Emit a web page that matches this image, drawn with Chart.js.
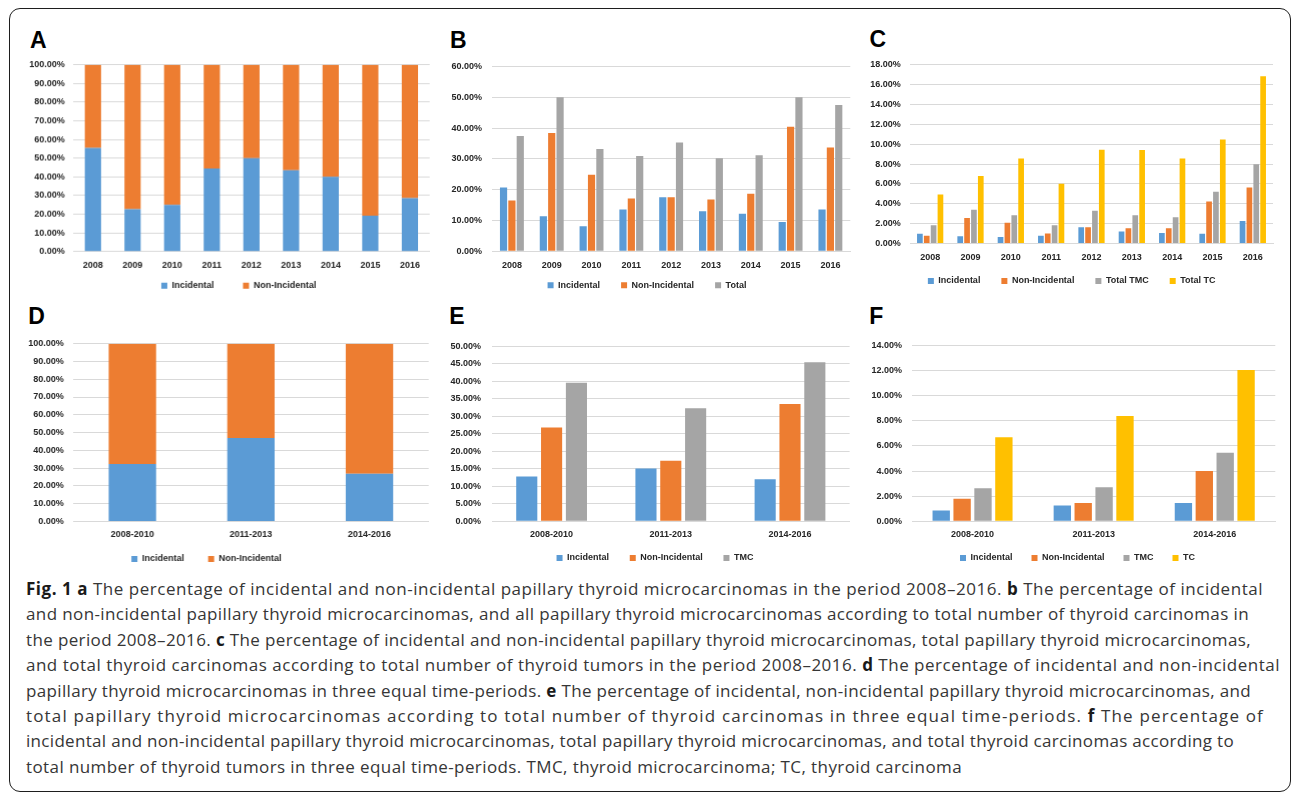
<!DOCTYPE html>
<html><head><meta charset="utf-8">
<script src="https://cdn.jsdelivr.net/npm/chart.js@4.4.0/dist/chart.umd.min.js"></script>
<style>
html,body{margin:0;padding:0;background:#fff;width:1292px;height:793px;overflow:hidden;position:relative;}
#frame{position:absolute;left:9px;top:8px;width:1282px;height:784px;box-sizing:border-box;border:1.5px solid #1e1e1e;border-radius:11px;}
.panel{position:absolute;}
.panel canvas{display:block;}
.lbl{position:absolute;font:bold 23px "Liberation Sans",Arial,sans-serif;color:#000;line-height:1;}
#cap{position:absolute;left:26px;top:576px;font-family:"Open Sans",sans-serif;font-size:17px;color:#363636;}
#cap div{white-space:nowrap;height:25.4px;line-height:25.4px;}
#cap span{display:inline-block;}
#cap b{color:#1a1a1a;font-weight:700;}
</style></head>
<body>
<div id="frame"></div>
<div class="lbl" style="left:30px;top:28.7px">A</div>
<div class="lbl" style="left:450px;top:28.7px">B</div>
<div class="lbl" style="left:869.5px;top:28.2px">C</div>
<div class="lbl" style="left:28.3px;top:305.3px">D</div>
<div class="lbl" style="left:449.3px;top:305.3px">E</div>
<div class="lbl" style="left:869.3px;top:305.3px">F</div>
<div class="panel" id="pA"><canvas></canvas></div>
<div class="panel" id="pB"><canvas></canvas></div>
<div class="panel" id="pC"><canvas></canvas></div>
<div class="panel" id="pD"><canvas></canvas></div>
<div class="panel" id="pE"><canvas></canvas></div>
<div class="panel" id="pF"><canvas></canvas></div>
<div id="cap">
<div><span><b>Fig. 1</b> <b>a</b> The percentage of incidental and non-incidental papillary thyroid microcarcinomas in the period 2008–2016. <b>b</b> The percentage of incidental</span></div>
<div><span>and non-incidental papillary thyroid microcarcinomas, and all papillary thyroid microcarcinomas according to total number of thyroid carcinomas in</span></div>
<div><span>the period 2008–2016. <b>c</b> The percentage of incidental and non-incidental papillary thyroid microcarcinomas, total papillary thyroid microcarcinomas,</span></div>
<div><span>and total thyroid carcinomas according to total number of thyroid tumors in the period 2008–2016. <b>d</b> The percentage of incidental and non-incidental</span></div>
<div><span>papillary thyroid microcarcinomas in three equal time-periods. <b>e</b> The percentage of incidental, non-incidental papillary thyroid microcarcinomas, and</span></div>
<div><span>total papillary thyroid microcarcinomas according to total number of thyroid carcinomas in three equal time-periods. <b>f</b> The percentage of</span></div>
<div><span>incidental and non-incidental papillary thyroid microcarcinomas, total papillary thyroid microcarcinomas, and total thyroid carcinomas according to</span></div>
<div><span>total number of thyroid tumors in three equal time-periods. TMC, thyroid microcarcinoma; TC, thyroid carcinoma</span></div>
</div>
<script>
// ---------- data ----------
const years = ['2008','2009','2010','2011','2012','2013','2014','2015','2016'];
const periods = ['2008-2010','2011-2013','2014-2016'];

const aIncidental    = [55.5, 22.7, 25.0, 44.4, 50.0, 43.5, 40.0, 19.2, 28.6];
const aNonIncidental = [44.5, 77.3, 75.0, 55.6, 50.0, 56.5, 60.0, 80.8, 71.4];

const bIncidental    = [20.7, 11.4, 8.1, 13.6, 17.5, 13.0, 12.2, 9.5, 13.6];
const bNonIncidental = [16.5, 38.4, 24.8, 17.1, 17.5, 16.8, 18.7, 40.4, 33.7];
const bTotal         = [37.4, 50.0, 33.2, 30.9, 35.3, 30.2, 31.2, 50.0, 47.5];

const cIncidental    = [0.99, 0.73, 0.66, 0.79, 1.65, 1.22, 1.06, 0.99, 2.28];
const cNonIncidental = [0.79, 2.58, 2.11, 1.02, 1.65, 1.55, 1.55, 4.23, 5.65];
const cTotalTMC      = [1.85, 3.40, 2.84, 1.85, 3.30, 2.84, 2.64, 5.22, 7.99];
const cTotalTC       = [4.95, 6.80, 8.55, 6.01, 9.45, 9.41, 8.55, 10.47, 16.84];

const dIncidental    = [32.3, 46.9, 26.8];
const dNonIncidental = [67.7, 53.1, 73.2];

const eIncidental    = [12.8, 15.1, 12.0];
const eNonIncidental = [26.8, 17.3, 33.5];
const eTMC           = [39.6, 32.3, 45.5];

const fIncidental    = [0.86, 1.25, 1.46];
const fNonIncidental = [1.80, 1.46, 4.01];
const fTMC           = [2.63, 2.71, 5.46];
const fTC            = [6.69, 8.38, 12.05];

// axis ranges (max, step)
const axisA = [100, 10], axisB = [60, 10], axisC = [18, 2];
const axisD = [100, 10], axisE = [50, 5],  axisF = [14, 2];

// ---------- style ----------
const BLUE = '#5B9BD5', ORANGE = '#ED7D31', GREY = '#A5A5A5', GOLD = '#FFC000';
const TXT = '#262626';
const tickFont = {family:'"Liberation Sans", Arial, sans-serif', size:9, weight:'bold'};
Chart.defaults.font.family = '"Liberation Sans", Arial, sans-serif';

function legendPlacer(g, cl, ct){
  return {
    id:'legendPlacer',
    beforeLayout(chart){
      const lg = chart.legend;
      if (lg && !lg._fx){
        const f = lg.fit;
        lg.fit = function(){ f.call(this); this.height = 0; };
        lg._fx = true;
      }
    },
    afterLayout(chart){
      const lg = chart.legend; if(!lg) return;
      const w = lg.width;
      const cx = g.legX - cl;
      lg.left = cx - w/2; lg.right = cx + w/2;
      lg.top = g.legY - ct - g.legPad - 4.5;
      lg.bottom = lg.top + g.legPad + 22;
      lg.height = lg.bottom - lg.top;
    }
  };
}

function build(id, g, labels, series, axis, bars, stacked){
  const el = document.getElementById(id);
  const cl = g.L - 56, ct = g.T - 12, cr = g.R + 6, cb = g.legY + 16;
  el.style.left = cl + 'px'; el.style.top = ct + 'px';
  el.style.width = (cr - cl) + 'px'; el.style.height = (cb - ct) + 'px';
  const xH = 20;
  new Chart(el.querySelector('canvas'), {
    type:'bar',
    data:{
      labels: labels,
      datasets: series.map(s => ({
        label: s[0], data: s[1], backgroundColor: s[2], borderWidth: 0,
        categoryPercentage: bars[0], barPercentage: bars[1]
      }))
    },
    options:{
      responsive:true, maintainAspectRatio:false, animation:false, devicePixelRatio:1,
      layout:{padding:{left:0, top:g.T - ct, right:cr - g.R, bottom:cb - g.B - xH}},
      scales:{
        x:{
          stacked: stacked,
          grid:{display:false, drawTicks:false},
          border:{display:true, color:'#D9D9D9', width:1},
          ticks:{padding:g.xPad, font:tickFont, color:TXT, maxRotation:0, autoSkip:false},
          afterFit: s => { s.height = xH; }
        },
        y:{
          stacked: stacked, min:0, max:axis[0],
          grid:{color:'#D9D9D9', drawTicks:false, lineWidth:1},
          border:{display:false},
          ticks:{stepSize:axis[1], padding:g.yPad, font:tickFont, color:TXT, autoSkip:false,
                 callback: v => Number(v).toFixed(2) + '%'},
          afterFit: s => { s.width = g.L - cl; }
        }
      },
      plugins:{
        legend:{position:'bottom', labels:{boxWidth:6, boxHeight:6, padding:g.legPad, font:tickFont, color:TXT}},
        tooltip:{enabled:false}
      }
    },
    plugins:[legendPlacer(g, cl, ct)]
  });
}

build('pA', {L:73.3, T:63.3, R:429, B:251, xPad:8.6, yPad:8.3, legY:285, legX:238.5, legPad:29},
  years, [['Incidental', aIncidental, BLUE], ['Non-Incidental', aNonIncidental, ORANGE]],
  axisA, [0.41, 1], true);

build('pB', {L:491.7, T:62.7, R:850, B:251, xPad:8.6, yPad:10, legY:285, legX:646.7, legPad:21},
  years, [['Incidental', bIncidental, BLUE], ['Non-Incidental', bNonIncidental, ORANGE], ['Total', bTotal, GREY]],
  axisB, [0.63, 0.86], false);

build('pC', {L:910, T:61.7, R:1273, B:243.3, xPad:8.6, yPad:9.3, legY:280.7, legX:1071.7, legPad:21},
  years, [['Incidental', cIncidental, BLUE], ['Non-Incidental', cNonIncidental, ORANGE], ['Total TMC', cTotalTMC, GREY], ['Total TC', cTotalTC, GOLD]],
  axisC, [0.68, 0.83], false);

build('pD', {L:73.3, T:341.3, R:428, B:521.7, xPad:7.9, yPad:9.3, legY:559.3, legX:206.2, legPad:24},
  periods, [['Incidental', dIncidental, BLUE], ['Non-Incidental', dNonIncidental, ORANGE]],
  axisD, [0.40, 1], true);

build('pE', {L:491.7, T:341.7, R:849.3, B:521, xPad:7.9, yPad:11, legY:557.7, legX:654.7, legPad:20.7},
  periods, [['Incidental', eIncidental, BLUE], ['Non-Incidental', eNonIncidental, ORANGE], ['TMC', eTMC, GREY]],
  axisE, [0.625, 0.85], false);

build('pF', {L:911.7, T:341.7, R:1275, B:521, xPad:7.6, yPad:10, legY:557.7, legX:1077.2, legPad:19},
  periods, [['Incidental', fIncidental, BLUE], ['Non-Incidental', fNonIncidental, ORANGE], ['TMC', fTMC, GREY], ['TC', fTC, GOLD]],
  axisF, [0.69, 0.83], false);

// ---------- caption: fit each line's right end via letter spacing ----------
const capEnds = [1263, 1249, 1251, 1280, 1251, 1264, 1234, 962];
function fitCaption(){
  const spans = Array.from(document.querySelectorAll('#cap span'));
  spans.forEach(sp => { sp.style.letterSpacing = '0px'; });
  spans.forEach((sp, i) => {
    const w = sp.getBoundingClientRect().width;
    if (!(w > 0)) return;
    const n = sp.textContent.length;
    const ls = (capEnds[i] - 26 - w) / n;
    sp.style.letterSpacing = Math.max(-0.6, Math.min(1.5, ls)) + 'px';
  });
}
fitCaption();
if (document.fonts && document.fonts.ready) document.fonts.ready.then(fitCaption);
</script>
</body></html>
